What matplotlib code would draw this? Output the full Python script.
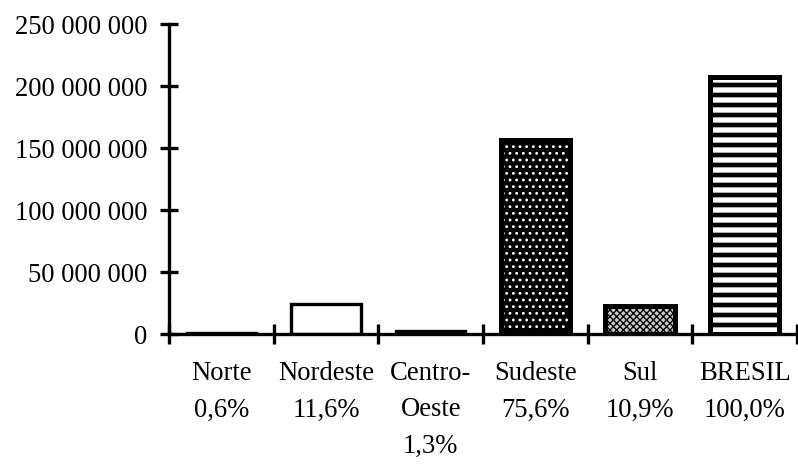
import matplotlib
matplotlib.use("Agg")
import matplotlib.pyplot as plt
from matplotlib.ticker import FixedLocator

plt.rcParams['font.family'] = ['Liberation Serif', 'DejaVu Serif']

categories = ["Norte\n0,6%", "Nordeste\n11,6%", "Centro-\nOeste\n1,3%",
              "Sudeste\n75,6%", "Sul\n10,9%", "BRESIL\n100,0%"]
values = [1.2e6, 24.0e6, 2.7e6, 156.5e6, 22.6e6, 207.0e6]
yticks = [0, 50e6, 100e6, 150e6, 200e6, 250e6]
ytick_labels = ["0", "50\u00a0000\u00a0000", "100\u00a0000\u00a0000",
                "150\u00a0000\u00a0000", "200\u00a0000\u00a0000", "250\u00a0000\u00a0000"]

DPI = 120
fig = plt.figure(figsize=(798 / DPI, 464 / DPI), dpi=DPI)
ax = fig.add_axes([169 / 798, 1 - 334 / 464, 628 / 798, (334 - 24) / 464])

x = [i + 0.5 for i in range(len(values))]
W = 0.66

def set_hlw(bars, lw):
    for b in bars:
        if hasattr(b, "set_hatch_linewidth"):
            b.set_hatch_linewidth(lw)

# Norte, Nordeste, Centro-Oeste: open white bars
for i in (0, 1, 2):
    ax.bar(x[i], values[i], W, facecolor="white", edgecolor="black", linewidth=2.0, zorder=2)

# Sudeste: black with white dots
plt.rcParams['hatch.linewidth'] = 0.9
b = ax.bar(x[3], values[3], W, facecolor="black", edgecolor="white", hatch="...", linewidth=0, zorder=2)
set_hlw(b, 0.9)
ax.bar(x[3], values[3], W, fill=False, edgecolor="black", linewidth=3.0, zorder=3)

# Sul: gray checker
b = ax.bar(x[4], values[4], W, facecolor="#c8c8c8", edgecolor="black", hatch="xxxxxx", linewidth=0, zorder=2)
set_hlw(b, 0.8)
ax.bar(x[4], values[4], W, fill=False, edgecolor="black", linewidth=3.0, zorder=3)

# BRESIL: horizontal stripes
b = ax.bar(x[5], values[5], W, facecolor="white", edgecolor="black", hatch="--", linewidth=0, zorder=2)
set_hlw(b, 2.8)
ax.bar(x[5], values[5], W, fill=False, edgecolor="black", linewidth=3.0, zorder=3)

ax.set_xlim(0, 6)
ax.set_ylim(0, 250e6)

for s in ("top", "right"):
    ax.spines[s].set_visible(False)
for s in ("left", "bottom"):
    ax.spines[s].set_linewidth(2.0)
    ax.spines[s].set_zorder(4)

ax.set_yticks(yticks)
ax.set_yticklabels(ytick_labels)
ax.tick_params(axis="y", direction="inout", length=10.8, width=2.0, pad=7.5, labelsize=16)

ax.set_xticks(x)
ax.set_xticklabels(categories, linespacing=1.62)
ax.xaxis.set_minor_locator(FixedLocator(list(range(len(values) + 1))))
ax.tick_params(axis="x", which="major", length=0, pad=16, labelsize=16)
ax.tick_params(axis="x", which="minor", direction="inout", length=12, width=2.0)

fig.savefig("out.png", dpi=DPI)
